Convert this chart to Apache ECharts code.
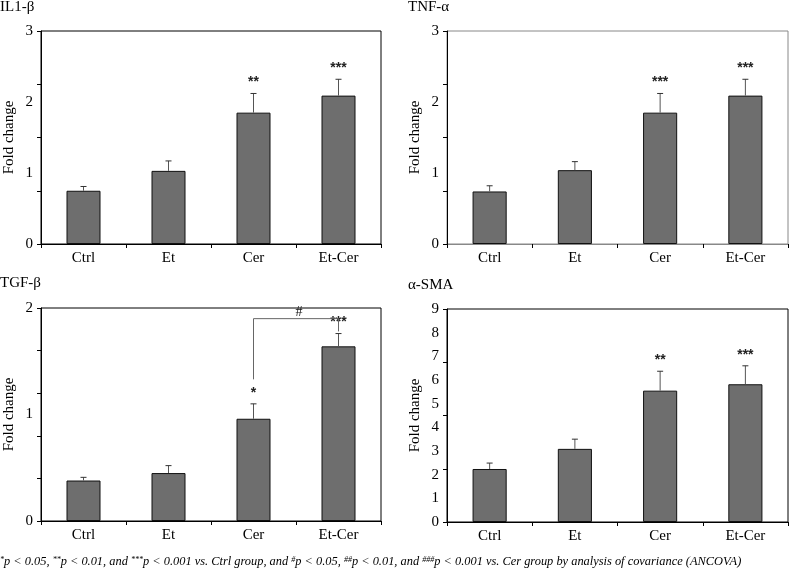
<!DOCTYPE html>
<html>
<head>
<meta charset="utf-8">
<script src="https://cdn.jsdelivr.net/npm/echarts@6/dist/echarts.min.js"></script>
<style>html,body{margin:0;padding:0;background:#fff}#c{width:789px;height:577px}</style>
</head>
<body>
<div id="c"></div>
<script>
// ---- data ----
const categories = ['Ctrl', 'Et', 'Cer', 'Et-Cer'];

const il1Title = 'IL1-β';
const il1Mean = [0.75, 1.03, 1.85, 2.09];
const il1Upper = [0.81, 1.17, 2.12, 2.32];
const il1Stars = ['', '', '**', '***'];

const tnfTitle = 'TNF-α';
const tnfMean = [0.74, 1.04, 1.85, 2.09];
const tnfUpper = [0.82, 1.16, 2.12, 2.32];
const tnfStars = ['', '', '***', '***'];

const tgfTitle = 'TGF-β';
const tgfMean = [0.38, 0.45, 0.96, 1.64];
const tgfUpper = [0.41, 0.52, 1.10, 1.76];
const tgfStars = ['', '', '*', '***'];
// bracket: [from category, to category, top, left leg bottom, right leg bottom]
const tgfBracket = [2, 3, 1.90, 1.33, 1.78];
const tgfBracketLabel = '#';

const smaTitle = 'α-SMA';
const smaMean = [2.24, 3.09, 5.55, 5.82];
const smaUpper = [2.49, 3.50, 6.37, 6.60];
const smaStars = ['', '', '**', '***'];

const yMax = [3, 3, 2, 9];
const yTickStep = [0.75, 0.75, 0.4, 2.25];
const yLabelStep = [1, 1, 1, 1];

const footnote = '{s|*}p < 0.05, {s|**}p < 0.01, and {s|***}p < 0.001 vs. Ctrl group, and {s|#}p < 0.05, {s|##}p < 0.01, and {s|###}p < 0.001 vs. Cer group by analysis of covariance (ANCOVA)';

// ---- chart ----
const FONT = 'Liberation Serif';
const chart = echarts.init(document.getElementById('c'), null, {renderer: 'canvas'});

const panels = [
  {title: il1Title, mean: il1Mean, upper: il1Upper, stars: il1Stars, grid: {left: 41, top: 31, width: 340, height: 213}, tx: 0, ty: 8, frame: '#000', xline: '#000'},
  {title: tnfTitle, mean: tnfMean, upper: tnfUpper, stars: tnfStars, grid: {left: 447, top: 31, width: 341, height: 213}, tx: 408, ty: 8, frame: '#888', xline: '#888'},
  {title: tgfTitle, mean: tgfMean, upper: tgfUpper, stars: tgfStars, grid: {left: 41, top: 308, width: 340, height: 213}, tx: 0, ty: 284, frame: '#000', xline: '#000'},
  {title: smaTitle, mean: smaMean, upper: smaUpper, stars: smaStars, grid: {left: 447, top: 309, width: 341, height: 213}, tx: 408, ty: 286, frame: '#000', xline: '#000'}
];

const grids = [], xAxes = [], yAxes = [], series = [], graphics = [];

panels.forEach((p, i) => {
  grids.push(Object.assign({show: true, borderColor: p.frame, borderWidth: 1, backgroundColor: 'transparent'}, p.grid));
  xAxes.push({
    type: 'category', gridIndex: i, data: categories,
    axisLine: {lineStyle: {color: p.xline, width: 1}},
    axisTick: {show: true, length: 4, lineStyle: {color: '#000'}},
    axisLabel: {fontFamily: FONT, fontSize: 15, color: '#000', margin: 7}
  });
  // label axis
  yAxes.push({
    type: 'value', gridIndex: i, min: 0, max: yMax[i], interval: yLabelStep[i], position: 'left',
    axisLine: {show: true, lineStyle: {color: '#000', width: 1}},
    axisTick: {show: false},
    splitLine: {show: false},
    axisLabel: {fontFamily: FONT, fontSize: 15, color: '#000', margin: 8},
    name: 'Fold change', nameLocation: 'middle', nameGap: 24,
    nameTextStyle: {fontFamily: FONT, fontSize: 15, color: '#000'}
  });
  // tick axis
  yAxes.push({
    type: 'value', gridIndex: i, min: 0, max: yMax[i], interval: yTickStep[i], position: 'left',
    axisLine: {show: false},
    axisTick: {show: true, length: 4, lineStyle: {color: '#000'}},
    splitLine: {show: false},
    axisLabel: {show: false}
  });
  const yIdx = i * 2;
  series.push({
    type: 'bar', xAxisIndex: i, yAxisIndex: yIdx, data: p.mean, barWidth: '40%',
    itemStyle: {color: '#6e6e6e', borderColor: '#111', borderWidth: 1},
    emphasis: {disabled: true}, z: 2
  });
  const stars = p.stars;
  series.push({
    type: 'custom', xAxisIndex: i, yAxisIndex: yIdx, z: 3,
    data: categories.map((c, k) => [k, p.mean[k], p.upper[k]]),
    renderItem: function (params, api) {
      const k = api.value(0);
      const lo = api.coord([k, api.value(1)]);
      const hi = api.coord([k, api.value(2)]);
      const children = [
        {type: 'line', shape: {x1: lo[0], y1: lo[1], x2: hi[0], y2: hi[1]}, style: {stroke: '#555', lineWidth: 1}},
        {type: 'line', shape: {x1: hi[0] - 3, y1: hi[1], x2: hi[0] + 3, y2: hi[1]}, style: {stroke: '#333', lineWidth: 1}}
      ];
      const s = stars[params.dataIndex];
      if (s) {
        children.push({type: 'text', x: hi[0], y: hi[1] - 11,
          style: {text: s, fontFamily: 'Liberation Sans', fontWeight: 'bold', fontSize: 14, fill: '#222', align: 'center', verticalAlign: 'middle'}});
      }
      return {type: 'group', children: children};
    }
  });
  graphics.push({type: 'text', left: p.tx, top: p.ty - 8,
    style: {text: p.title, fontFamily: FONT, fontSize: 15, fill: '#000'}});
});

// bracket on TGF-β panel
series.push({
  type: 'custom', xAxisIndex: 2, yAxisIndex: 4, z: 3,
  data: [tgfBracket],
  renderItem: function (params, api) {
    const a = api.value(0), b = api.value(1);
    const pTopA = api.coord([a, api.value(2)]);
    const pTopB = api.coord([b, api.value(2)]);
    const pBotA = api.coord([a, api.value(3)]);
    const pBotB = api.coord([b, api.value(4)]);
    return {type: 'group', children: [
      {type: 'polyline', shape: {points: [pBotA, pTopA, pTopB, pBotB]}, style: {stroke: '#666', lineWidth: 1, fill: null}},
      {type: 'text', x: (pTopA[0] + pTopB[0]) / 2 + 3, y: pTopA[1] + 1,
        style: {text: tgfBracketLabel, fontFamily: FONT, fontSize: 14, fill: '#111', align: 'center', verticalAlign: 'bottom'}}
    ]};
  }
});

graphics.push({type: 'text', left: 0, top: 556,
  style: {text: footnote, fontFamily: FONT, fontStyle: 'italic', fontSize: 12.4, fill: '#000',
    rich: {s: {fontFamily: FONT, fontStyle: 'italic', fontSize: 8, verticalAlign: 'top', fill: '#000'}}}});

chart.setOption({
  animation: false,
  backgroundColor: '#fff',
  grid: grids, xAxis: xAxes, yAxis: yAxes, series: series, graphic: graphics
});
</script>
</body>
</html>
